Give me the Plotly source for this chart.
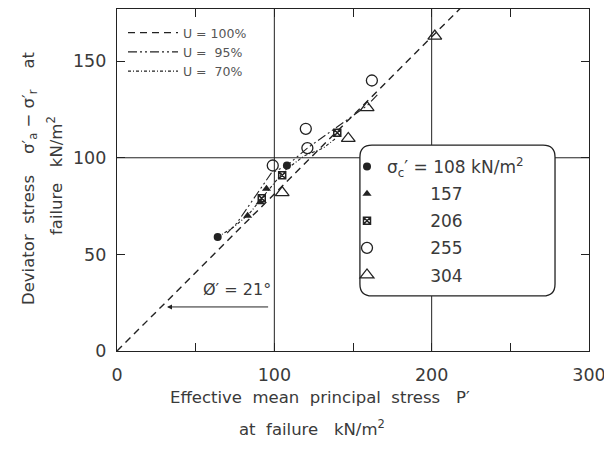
import plotly.graph_objects as go

# ---- data ----
# U = 100 % failure line (phi' = 21 deg)
p_u100 = [0, 219]
q_u100 = [0, 178]
# U = 95 % line
p_u95 = [70, 76, 98, 108, 121, 159, 166]
q_u95 = [61, 66, 92, 96, 105, 127, 133]
# U = 70 % line
p_u70 = [64, 74, 84, 92, 100, 106, 119, 131, 139]
q_u70 = [59, 64, 71, 79, 87, 93, 101, 105, 110]

# measured points by effective confining pressure sigma_c'
p_108 = [64, 108]
q_108 = [59, 96]
p_157 = [83, 91, 95]
q_157 = [70, 77, 84]
p_206 = [92, 105, 140]
q_206 = [79, 91, 113]
p_255 = [99, 121, 120, 162]
q_255 = [96, 105, 115, 140]
p_304 = [105, 147, 159, 202]
q_304 = [82, 110, 126, 163]

x_ticks = [0, 100, 200, 300]
y_ticks = [0, 50, 100, 150]

INK = "#222222"
TXT = "#3a3a3a"
FONT = "DejaVu Sans"

# page offset (default body margin) and plot area in screen pixels
OFF = 8
W, H = 612 - OFF, 454 - OFF
PL, PR, PT, PB = 117, 589, 9, 351


def px_to_paper(px, py):
    return (px - PL) / (PR - PL), (PB - py) / (PB - PT)


fig = go.Figure()

# line series (legend 1)
fig.add_trace(go.Scatter(x=p_u100, y=q_u100, mode="lines", name="U = 100%",
                         line=dict(color=INK, width=1.4, dash="7px,5px"),
                         legend="legend"))
fig.add_trace(go.Scatter(x=p_u95, y=q_u95, mode="lines", name="U =  95%",
                         line=dict(color=INK, width=1.1, dash="9px,3px,2px,3px,2px,3px"),
                         legend="legend"))
fig.add_trace(go.Scatter(x=p_u70, y=q_u70, mode="lines", name="U =  70%",
                         line=dict(color=INK, width=1.1, dash="3px,2px,1px,2px"),
                         legend="legend"))

# marker series (legend 2)
sp = "\u00a0" * 8
fig.add_trace(go.Scatter(x=p_108, y=q_108, mode="markers",
                         name="σ<sub>c</sub>′ = 108 kN/m<sup>2</sup>",
                         marker=dict(symbol="circle", size=8, color=INK),
                         legend="legend2", legendgroup="a"))
fig.add_trace(go.Scatter(x=p_157, y=q_157, mode="markers", name=sp + "157",
                         marker=dict(symbol="triangle-up", size=8, color=INK),
                         legend="legend2", legendgroup="b"))
fig.add_trace(go.Scatter(x=p_206, y=q_206, mode="markers", name=sp + "206",
                         marker=dict(symbol="square-x-open", size=7, color=INK,
                                     line=dict(width=1.5)),
                         legend="legend2", legendgroup="c"))
fig.add_trace(go.Scatter(x=p_255, y=q_255, mode="markers", name=sp + "255",
                         marker=dict(symbol="circle-open", size=11, color=INK,
                                     line=dict(width=1.3)),
                         legend="legend2", legendgroup="d"))
fig.add_trace(go.Scatter(x=p_304, y=q_304, mode="markers", name=sp + "304",
                         marker=dict(symbol="triangle-up-open", size=12, color=INK,
                                     line=dict(width=1.3)),
                         legend="legend2", legendgroup="e"))

# gridlines at 100 / 200 / 100
shapes = [
    dict(type="line", xref="x", yref="y", x0=100, x1=100, y0=0, y1=177,
         line=dict(color=INK, width=1), layer="below"),
    dict(type="line", xref="x", yref="y", x0=200, x1=200, y0=0, y1=177,
         line=dict(color=INK, width=1), layer="below"),
    dict(type="line", xref="x", yref="y", x0=0, x1=300, y0=100, y1=100,
         line=dict(color=INK, width=1), layer="below"),
]
# rounded legend box
x0, x1, y0, y1 = 154.4, 278.4, 28.5, 106.6
rx, ry = 7.6, 6.2
path = (f"M{x0+rx},{y0} L{x1-rx},{y0} Q{x1},{y0} {x1},{y0+ry} "
        f"L{x1},{y1-ry} Q{x1},{y1} {x1-rx},{y1} L{x0+rx},{y1} "
        f"Q{x0},{y1} {x0},{y1-ry} L{x0},{y0+ry} Q{x0},{y0} {x0+rx},{y0} Z")
shapes.append(dict(type="path", xref="x", yref="y", path=path,
                   fillcolor="white", line=dict(color=INK, width=1.3), layer="above"))

annotations = [
    dict(text="Ø′ = 21°", x=76, y=31.6, xref="x", yref="y", showarrow=False,
         font=dict(family=FONT, size=16, color=TXT)),
    dict(text="", x=31.8, y=22.8, ax=97, ay=22.8, xref="x", yref="y",
         axref="x", ayref="y", showarrow=True, arrowhead=2, arrowsize=1,
         arrowwidth=1, arrowcolor=INK),
]
texts = [
    ("Deviator  stress    σ′<sub>a</sub> − σ′<sub>r</sub>    at", 30, 178, -90),
    ("failure   kN/m<sup>2</sup>", 55, 175, -90),
    ("Effective  mean  principal  stress   P′", 320, 397, 0),
    ("at  failure   kN/m<sup>2</sup>", 312, 428, 0),
]
for t, px, py, ang in texts:
    ax_, ay_ = px_to_paper(px, py)
    annotations.append(dict(text=t, x=ax_, y=ay_, xref="paper", yref="paper",
                            showarrow=False, textangle=ang,
                            xanchor="center", yanchor="middle",
                            font=dict(family=FONT, size=16.5, color=TXT)))

l1x, l1y = px_to_paper(123, 18)
l2x, l2y = px_to_paper(347, 149)

fig.update_layout(
    width=W, height=H,
    margin=dict(l=PL - OFF, r=OFF + W - PR, t=PT - OFF, b=OFF + H - PB,
                autoexpand=False),
    paper_bgcolor="white", plot_bgcolor="white",
    font=dict(family=FONT, color=TXT),
    shapes=shapes, annotations=annotations,
    legend=dict(x=l1x, y=l1y, xanchor="left", yanchor="top",
                bgcolor="rgba(0,0,0,0)",
                itemwidth=50, font=dict(family=FONT, size=12.5, color="#555"),
                tracegroupgap=0),
    legend2=dict(x=l2x, y=l2y, xanchor="left", yanchor="top",
                 bgcolor="rgba(0,0,0,0)",
                 font=dict(family=FONT, size=17, color=TXT), tracegroupgap=2),
    xaxis=dict(range=[0, 300], tickvals=x_ticks, showgrid=False, zeroline=False,
               showline=True, linecolor=INK, linewidth=1.3, mirror="ticks",
               ticks="inside", ticklen=8, tickcolor=INK,
               minor=dict(dtick=50, ticks="inside", ticklen=8, tickcolor=INK),
               ticklabelstandoff=8,
               tickfont=dict(family=FONT, size=17.5, color=TXT)),
    yaxis=dict(range=[0, 177], tickvals=y_ticks, showgrid=False, zeroline=False,
               showline=True, linecolor=INK, linewidth=1.3, mirror="ticks",
               ticks="inside", ticklen=8, tickcolor=INK,
               ticklabelstandoff=6,
               tickfont=dict(family=FONT, size=17.5, color=TXT)),
)

fig.write_html("out.html")
